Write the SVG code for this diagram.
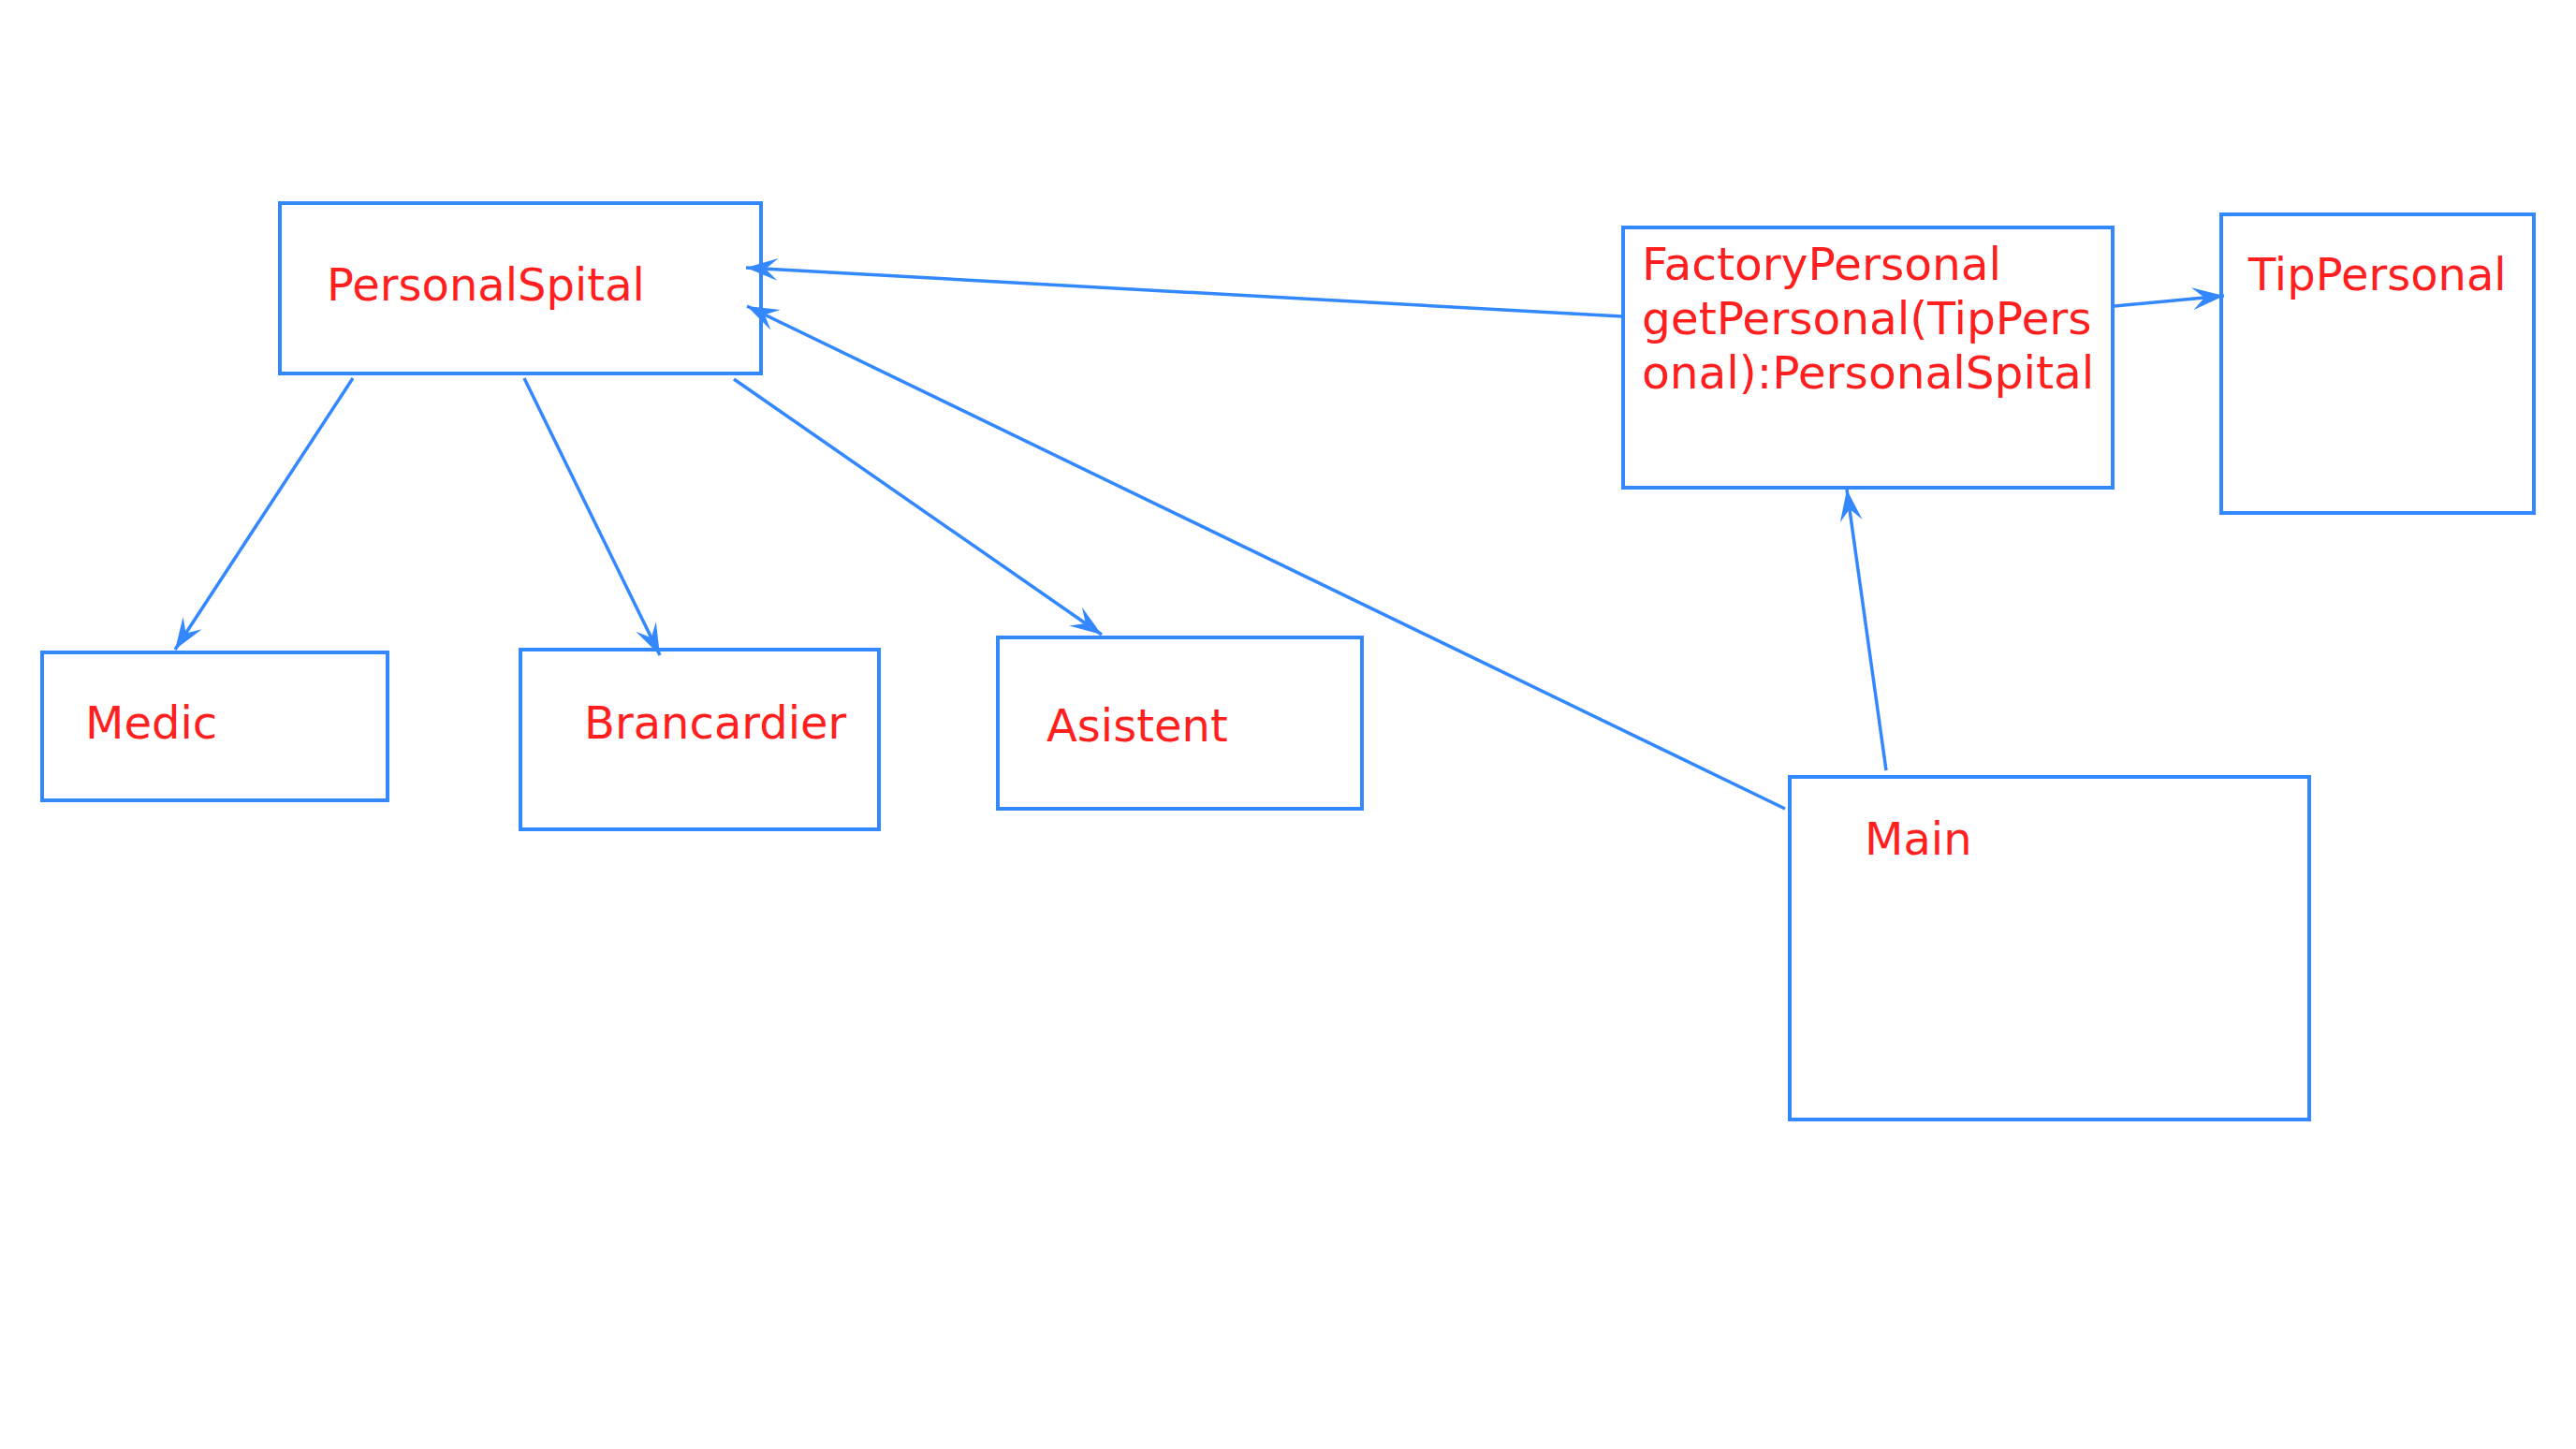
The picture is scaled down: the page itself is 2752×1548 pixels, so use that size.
<svg xmlns="http://www.w3.org/2000/svg" width="2752" height="1548" viewBox="0 0 2752 1548">
  <style>
    .box { fill: #ffffff; stroke: #3388ff; stroke-width: 4; }
    .lbl { font-family: "DejaVu Sans", Verdana, sans-serif; font-size: 48px; fill: #ff1f1f; }
    .wide { font-size: 48.6px; }
    .edge { fill: none; stroke: #3388ff; stroke-width: 3.5; marker-end: url(#arr); }
  </style>
  <defs>
    <marker id="arr" markerUnits="userSpaceOnUse" markerWidth="40" markerHeight="30" refX="34" refY="12" orient="auto" overflow="visible">
      <path d="M0,0 L34,12 L0,24 L13,12 Z" fill="#3388ff"/>
    </marker>
  </defs>
  <rect width="2752" height="1548" fill="#ffffff"/>

  <g id="node-PersonalSpital">
    <rect class="box" x="299" y="217" width="514" height="182"/>
    <text class="lbl" x="349" y="321">PersonalSpital</text>
  </g>
  <g id="node-Medic">
    <rect class="box" x="45" y="697" width="369" height="158"/>
    <text class="lbl" x="91" y="789">Medic</text>
  </g>
  <g id="node-Brancardier">
    <rect class="box" x="556" y="694" width="383" height="192"/>
    <text class="lbl" x="624" y="789">Brancardier</text>
  </g>
  <g id="node-Asistent">
    <rect class="box" x="1066" y="681" width="389" height="183"/>
    <text class="lbl" x="1118" y="792">Asistent</text>
  </g>
  <g id="node-Main">
    <rect class="box" x="1912" y="830" width="555" height="366"/>
    <text class="lbl" x="1992" y="913">Main</text>
  </g>
  <g id="node-FactoryPersonal">
    <rect class="box" x="1734" y="243" width="523" height="278"/>
    <text class="lbl wide" x="1754" y="299">FactoryPersonal</text>
    <text class="lbl wide" x="1754" y="357">getPersonal(TipPers</text>
    <text class="lbl wide" x="1754" y="415">onal):PersonalSpital</text>
  </g>
  <g id="node-TipPersonal">
    <rect class="box" x="2373" y="229" width="334" height="319"/>
    <text class="lbl" x="2402" y="310">TipPersonal</text>
  </g>

  <g id="connectors">
    <line class="edge" x1="1733" y1="338" x2="797" y2="286"/>
    <line class="edge" x1="1907" y1="864" x2="798" y2="327"/>
    <line class="edge" x1="2015" y1="823" x2="1973" y2="523"/>
    <line class="edge" x1="2259" y1="327" x2="2376" y2="316"/>
    <line class="edge" x1="377" y1="404" x2="187" y2="694"/>
    <line class="edge" x1="560" y1="404" x2="705" y2="700"/>
    <line class="edge" x1="784" y1="405" x2="1177" y2="678"/>
  </g>
</svg>
